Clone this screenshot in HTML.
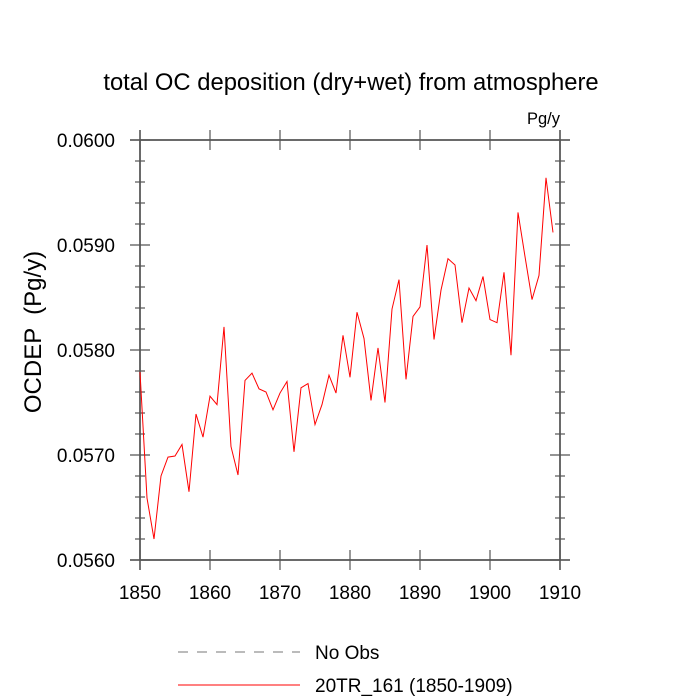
<!DOCTYPE html>
<html><head><meta charset="utf-8"><style>body{margin:0;background:#fff}svg{display:block}text{font-family:"Liberation Sans",sans-serif;fill:#000}</style></head>
<body>
<svg id="chart" width="700" height="700">
<text x="351" y="90" font-size="23.8" text-anchor="middle">total OC deposition (dry+wet) from atmosphere</text>
<text x="560" y="124" font-size="16.5" text-anchor="end">Pg/y</text>
<text transform="translate(41,332) rotate(-90)" font-size="24" text-anchor="middle" style="white-space:pre">OCDEP  (Pg/y)</text>
<g id="axes"></g>
<g id="series"></g>
<g>
<line x1="178" y1="652" x2="300" y2="652" stroke="#777" stroke-dasharray="10,9"/>
<text x="315" y="659" font-size="19">No Obs</text>
<line x1="178" y1="685" x2="300" y2="685" stroke="red" stroke-width="1"/>
<text x="315" y="692" font-size="19">20TR_161 (1850-1909)</text>
</g>
</svg>
<script>
const startYear = 1850;
const values = [0.05779,0.05659,0.05620,0.05680,0.05698,0.05699,0.05710,0.05665,0.05739,0.05717,
0.05756,0.05748,0.05822,0.05708,0.05681,0.05771,0.05778,0.05763,0.05760,0.05743,
0.05759,0.05770,0.05703,0.05764,0.05768,0.05729,0.05748,0.05776,0.05759,0.05814,
0.05774,0.05836,0.05811,0.05752,0.05802,0.05750,0.05839,0.05867,0.05772,0.05832,
0.05841,0.05900,0.05810,0.05857,0.05887,0.05881,0.05826,0.05859,0.05847,0.05870,
0.05829,0.05826,0.05874,0.05795,0.05931,0.05889,0.05848,0.05871,0.05964,0.05912];
const xTicks = [1850,1860,1870,1880,1890,1900,1910];
const yTicks = [0.056,0.057,0.058,0.059,0.060];
const ns='http://www.w3.org/2000/svg';
const L=140,R=560,T=140,B=560,x0=1850,x1=1910,y0=0.056,y1=0.060;
const X=v=>L+(v-x0)/(x1-x0)*(R-L);
const Y=v=>B-(v-y0)/(y1-y0)*(B-T);
const ax=document.getElementById('axes');
function mk(tag,attrs,parent){const e=document.createElementNS(ns,tag);for(const k in attrs)e.setAttribute(k,attrs[k]);parent.appendChild(e);return e;}
const frame=mk('rect',{x:L,y:T,width:R-L,height:B-T,fill:'none',stroke:'#555','stroke-width':1.5},ax);


[[L-10,T,R+10,T],[L-10,B,R+10,B],[L,T-10,L,B+10],[R,T-10,R,B+10]].forEach(a=>mk('line',{x1:a[0],y1:a[1],x2:a[2],y2:a[3],stroke:'#555','stroke-width':1.5},ax));
for(let v=y0;v<=y1+1e-9;v+=0.0002){const y=Y(v);const major=Math.abs(Math.round(v*1000)-v*1000)<1e-6;const w=major?10:5;
mk('line',{x1:L-w,y1:y,x2:L+w,y2:y,stroke:'#555','stroke-width':1.2},ax);mk('line',{x1:R-w,y1:y,x2:R+w,y2:y,stroke:'#555','stroke-width':1.2},ax);}
yTicks.forEach(v=>{const t=mk('text',{x:L-25,y:Y(v)+7,'font-size':19,'text-anchor':'end'},ax);t.textContent=v.toFixed(4);

});
xTicks.forEach(v=>{const x=X(v);mk('line',{x1:x,y1:B-10,x2:x,y2:B+10,stroke:'#555','stroke-width':1.2},ax);mk('line',{x1:x,y1:T-10,x2:x,y2:T+10,stroke:'#555','stroke-width':1.2},ax);
const t=mk('text',{x:x,y:B+39,'font-size':19,'text-anchor':'middle'},ax);t.textContent=v;

});
const pts=values.map((v,i)=>X(startYear+i).toFixed(2)+','+Y(v).toFixed(2)).join(' ');
const pl=mk('polyline',{points:pts,fill:'none',stroke:'red','stroke-width':1},document.getElementById('series'));


</script>
</body></html>
